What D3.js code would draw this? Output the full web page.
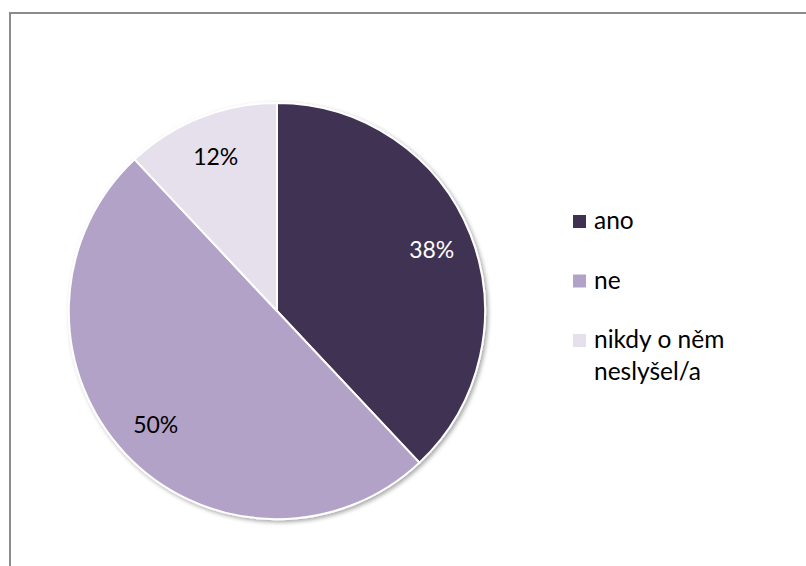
<!DOCTYPE html>
<html>
<head>
<meta charset="utf-8">
<script src="https://cdn.jsdelivr.net/npm/d3@7/dist/d3.min.js"></script>
<style>
  html, body { margin: 0; padding: 0; background: #ffffff; }
  svg { display: block; }
  text { font-family: Lato, "Open Sans", sans-serif; }
</style>
</head>
<body>
<svg id="chart" width="806" height="566"></svg>
<script>
// Survey answers and their shares (%)
const categories = ["ano", "ne", "nikdy o něm neslyšel/a"];
const legendLines = [["ano"], ["ne"], ["nikdy o něm", "neslyšel/a"]];
const values = [38, 50, 12];
const colors = ["#403152", "#b3a2c7", "#e5e0ec"];
const labelColors = ["#ffffff", "#000000", "#000000"];

const svg = d3.select("#chart");
const W = 806, H = 566;

// chart frame (right and bottom edges run past the view)
svg.append("rect")
  .attr("x", 10).attr("y", 13)
  .attr("width", W + 20).attr("height", H + 20)
  .attr("fill", "#ffffff")
  .attr("stroke", "#8c8c8c")
  .attr("stroke-width", 2);

// soft shadow under the pie
const defs = svg.append("defs");
const f = defs.append("filter").attr("id", "shadow")
  .attr("x", "-10%").attr("y", "-10%").attr("width", "120%").attr("height", "120%");
f.append("feDropShadow")
  .attr("dx", 2).attr("dy", 2).attr("stdDeviation", 2)
  .attr("flood-color", "#000").attr("flood-opacity", 0.35);

const cx = 277, cy = 311, R = 208;

const pie = d3.pie().sort(null).value(d => d);
const arcs = pie(values);
const arc = d3.arc().innerRadius(0).outerRadius(R);
const labelArc = d3.arc().innerRadius(R * 0.8).outerRadius(R * 0.8);

const g = svg.append("g").attr("transform", `translate(${cx},${cy})`);

g.append("g").attr("filter", "url(#shadow)")
  .selectAll("path")
  .data(arcs)
  .join("path")
  .attr("d", arc)
  .attr("fill", (d, i) => colors[i])
  .attr("stroke", "#ffffff")
  .attr("stroke-width", 2)
  .attr("stroke-linejoin", "round");

g.selectAll("text.lbl")
  .data(arcs)
  .join("text")
  .attr("class", "lbl")
  .attr("transform", d => `translate(${labelArc.centroid(d)})`)
  .attr("text-anchor", "middle")
  .attr("dy", "0.36em")
  .attr("font-size", 23)
  .attr("fill", (d, i) => labelColors[i])
  .text(d => d.data + "%");

// legend
const legend = svg.append("g").attr("transform", "translate(573,0)");
const rowY = d3.scalePoint().domain(categories).range([229, 348]);

const items = legend.selectAll("g.item")
  .data(categories)
  .join("g")
  .attr("class", "item")
  .attr("transform", d => `translate(0,${rowY(d)})`);

items.append("rect")
  .attr("x", 0).attr("y", -14)
  .attr("width", 13).attr("height", 13)
  .attr("fill", (d, i) => colors[i]);

items.append("text")
  .attr("x", 21)
  .attr("font-size", 24.5)
  .attr("fill", "#000000")
  .selectAll("tspan")
  .data((d, i) => legendLines[i])
  .join("tspan")
  .attr("x", 21)
  .attr("dy", (d, j) => j === 0 ? 0 : 32)
  .text(d => d);
</script>
</body>
</html>
